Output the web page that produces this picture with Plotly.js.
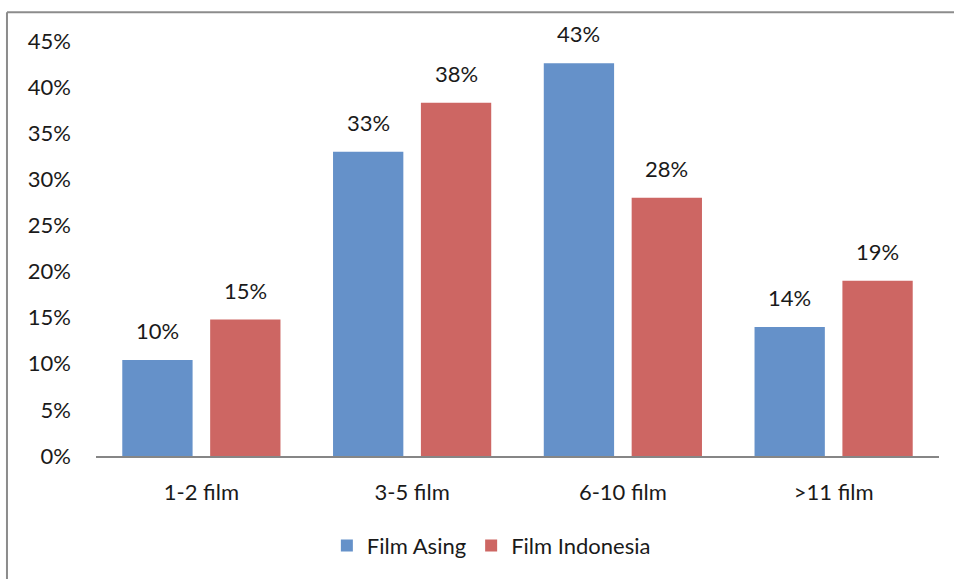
<!DOCTYPE html>
<html>
<head>
<meta charset="utf-8">
<script src="https://cdn.plot.ly/plotly-3.0.1.min.js"></script>
<style>html,body{margin:0;padding:0;background:#fff;}#chart{width:954px;height:579px;}</style>
</head>
<body>
<div id="chart"></div>
<script>
var categories = ['1-2 film', '3-5 film', '6-10 film', '>11 film'];
var filmAsing = [0.104, 0.330, 0.426, 0.140];
var filmIndonesia = [0.148, 0.383, 0.280, 0.190];
var seriesNames = ['Film Asing', 'Film Indonesia'];
var yTickVals = [0, 0.05, 0.10, 0.15, 0.20, 0.25, 0.30, 0.35, 0.40, 0.45];
var yTickText = ['0%', '5%', '10%', '15%', '20%', '25%', '30%', '35%', '40%', '45%'];

var font = 'Lato, "Open Sans", sans-serif';
var textColor = '#1a1a1a';
var fsize = 22;

var traces = [
  {type: 'bar', name: seriesNames[0], x: categories, y: filmAsing, marker: {color: '#6591c9'}},
  {type: 'bar', name: seriesNames[1], x: categories, y: filmIndonesia, marker: {color: '#cd6663'}}
];

var annotations = [];
[filmAsing, filmIndonesia].forEach(function (vals, s) {
  vals.forEach(function (v, i) {
    annotations.push({
      x: categories[i], y: v, xref: 'x', yref: 'y',
      text: Math.round(v * 100) + '%', showarrow: false,
      xshift: s === 0 ? -44 : 44, yanchor: 'bottom', yshift: 14,
      font: {family: font, size: fsize, color: textColor}
    });
  });
});

var layout = {
  width: 954, height: 579,
  margin: {l: 96, r: 15, t: 41, b: 121},
  paper_bgcolor: '#ffffff', plot_bgcolor: '#ffffff',
  font: {family: font, size: fsize, color: textColor},
  barmode: 'group', bargap: 0.166, bargroupgap: 0.2,
  showlegend: true,
  legend: {orientation: 'h', x: 0.469, xanchor: 'center', y: -0.216, yanchor: 'middle',
           font: {family: font, size: fsize, color: textColor}, itemwidth: 30, tracegroupgap: 0},
  xaxis: {
    showline: true, linecolor: '#868686', linewidth: 1.5,
    showgrid: false, zeroline: false, ticks: '',
    tickfont: {family: font, size: fsize, color: textColor}, ticklabelstandoff: 16
  },
  yaxis: {
    range: [0, 0.45], tickvals: yTickVals, ticktext: yTickText,
    showgrid: false, zeroline: false, showline: false, ticks: '',
    tickfont: {family: font, size: fsize, color: textColor}, ticklabelstandoff: 24
  },
  annotations: annotations,
  shapes: [
    {type: 'line', xref: 'paper', yref: 'paper', x0: -0.1056, x1: -0.1056, y0: -0.3, y1: 1.0695,
     line: {color: '#8c8c8c', width: 2}},
    {type: 'line', xref: 'paper', yref: 'paper', x0: -0.1056, x1: 1.02, y0: 1.0695, y1: 1.0695,
     line: {color: '#8c8c8c', width: 2}}
  ]
};

Plotly.newPlot('chart', traces, layout, {displayModeBar: false, staticPlot: true});
</script>
</body>
</html>
